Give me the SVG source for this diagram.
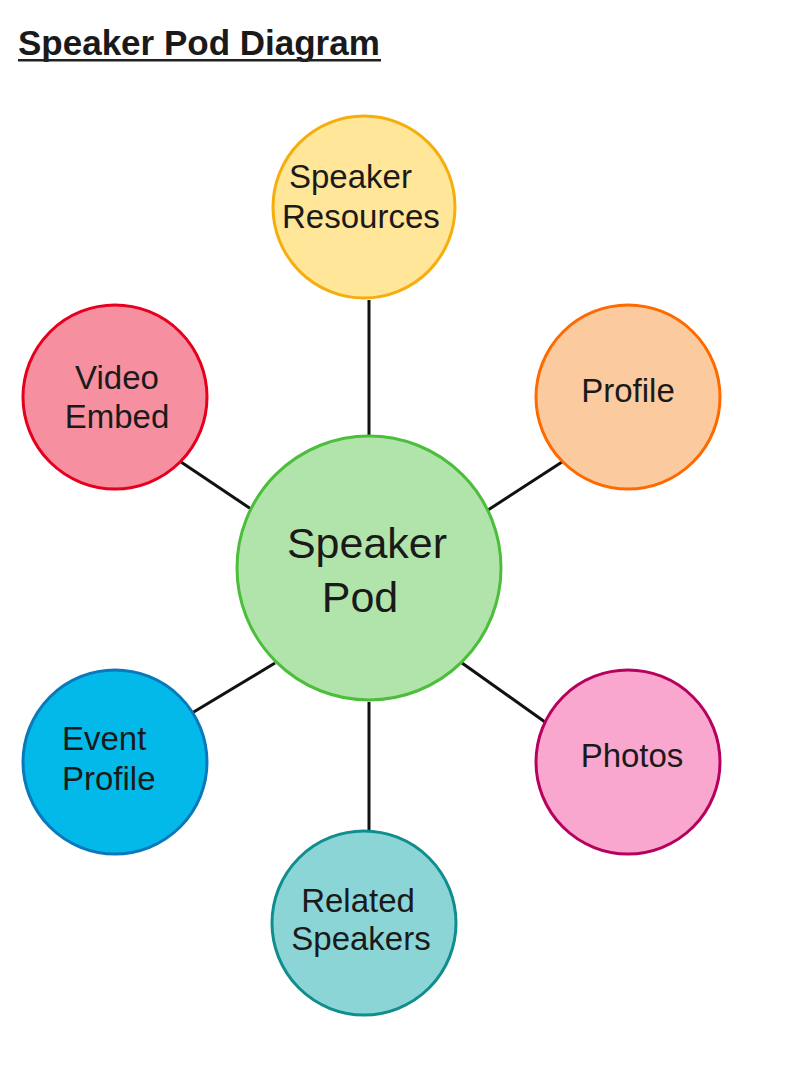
<svg xmlns="http://www.w3.org/2000/svg" width="812" height="1085" viewBox="0 0 812 1085">
<style>
.t{font-family:"Liberation Sans",Arial,sans-serif;fill:#1a1a1a;}
.n{font-size:33px;}
.c{stroke-width:3;}
.e{stroke:#111;stroke-width:3;fill:none;}
</style>
<rect width="812" height="1085" fill="#fff"/>
<g id="title">
<text class="t" x="18" y="55" font-size="35" font-weight="bold" fill="#000">Speaker Pod Diagram</text>
<rect x="18" y="59" width="363" height="2.5" fill="#222"/>
</g>
<g id="connectors">
<line class="e" x1="369" y1="300" x2="369" y2="435"/>
<line class="e" x1="369" y1="702" x2="369" y2="830"/>
<line class="e" x1="181" y1="462" x2="251" y2="509"/>
<line class="e" x1="562" y1="462" x2="488" y2="510"/>
<line class="e" x1="192" y1="713" x2="275" y2="663"/>
<line class="e" x1="545" y1="722" x2="462" y2="663"/>
</g>
<g id="speaker-resources">
<circle class="c" cx="364" cy="207" r="91" fill="#FFE699" stroke="#F5AE0C"/>
<text class="t n" x="289" y="188">Speaker</text>
<text class="t n" x="282" y="228">Resources</text>
</g>
<g id="profile">
<circle class="c" cx="628" cy="397" r="92" fill="#FBCB9F" stroke="#FF6A00"/>
<text class="t n" x="628" y="402" text-anchor="middle">Profile</text>
</g>
<g id="video-embed">
<circle class="c" cx="115" cy="397" r="92" fill="#F68FA0" stroke="#E6001E"/>
<text class="t n" x="117" y="389" text-anchor="middle">Video</text>
<text class="t n" x="117" y="428" text-anchor="middle">Embed</text>
</g>
<g id="speaker-pod">
<circle class="c" cx="369" cy="568" r="132" fill="#B1E4AA" stroke="#4CBE3C"/>
<text class="t" x="367" y="558" font-size="43" text-anchor="middle">Speaker</text>
<text class="t" x="360" y="612" font-size="43" text-anchor="middle">Pod</text>
</g>
<g id="event-profile">
<circle class="c" cx="115" cy="762" r="92" fill="#03B9E9" stroke="#0B78BB"/>
<text class="t n" x="62" y="750">Event</text>
<text class="t n" x="62" y="790">Profile</text>
</g>
<g id="photos">
<circle class="c" cx="628" cy="762" r="92" fill="#FAA7CF" stroke="#B8005F"/>
<text class="t n" x="632" y="767" text-anchor="middle">Photos</text>
</g>
<g id="related-speakers">
<circle class="c" cx="364" cy="923" r="92" fill="#8CD5D7" stroke="#108D8D"/>
<text class="t n" x="358" y="912" text-anchor="middle">Related</text>
<text class="t n" x="361" y="950" text-anchor="middle">Speakers</text>
</g>
</svg>
